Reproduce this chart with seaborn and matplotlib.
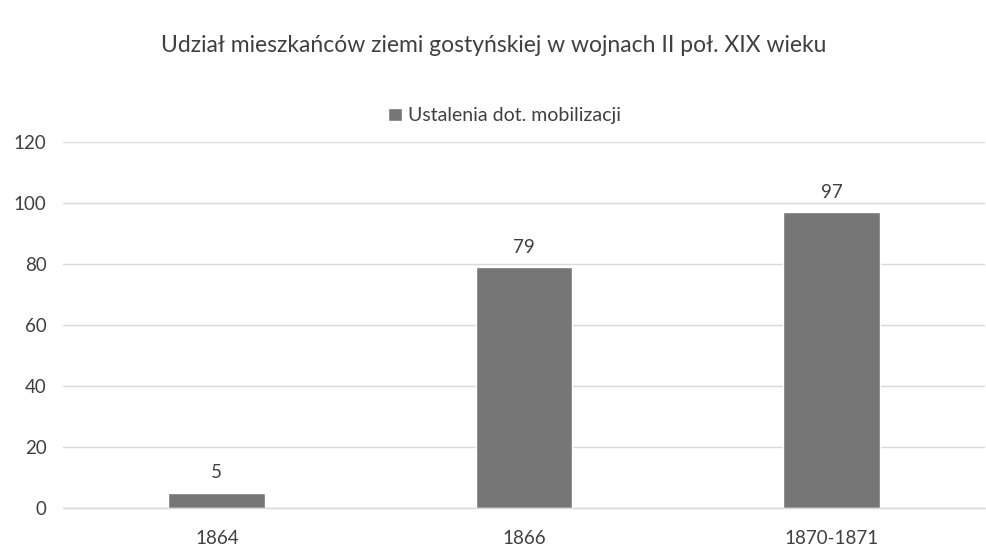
import pandas as pd
import matplotlib.pyplot as plt
import seaborn as sns

# data
okresy = ["1864", "1866", "1870-1871"]
wartosci = [5, 79, 97]
seria = "Ustalenia dot. mobilizacji"
y_ticks = [0, 20, 40, 60, 80, 100, 120]

TEXT = "#404040"
BAR = "#767676"
GRID = "#d9d9d9"

sns.set_theme(style="white")
plt.rcParams['font.family'] = ['Lato', 'DejaVu Sans']

df = pd.DataFrame({"okres": okresy, "liczba": wartosci, "seria": [seria] * len(okresy)})

fig = plt.figure(figsize=(9.87, 5.52), dpi=100)
ax = fig.add_axes([0.064, 0.080, 0.934, 0.663])

sns.barplot(data=df, x="okres", y="liczba", hue="seria", palette=[BAR],
            width=0.315, dodge=False, ax=ax, legend=True)

ax.set_ylim(0, 120)
ax.set_yticks(y_ticks)
ax.yaxis.grid(True, color=GRID, linewidth=1)
ax.set_axisbelow(True)
for s in ["top", "right", "left"]:
    ax.spines[s].set_visible(False)
ax.spines["bottom"].set_color(GRID)
ax.spines["bottom"].set_linewidth(1)
ax.tick_params(axis="both", length=0, labelsize=13.5, colors=TEXT, pad=12)
ax.tick_params(axis="x", pad=16)
ax.set_xlabel("")
ax.set_ylabel("")

for c in ax.containers:
    ax.bar_label(c, fmt="%d", padding=8, fontsize=13.5, color=TEXT)

ax.legend(loc="center", bbox_to_anchor=(0.511, 0.79), bbox_transform=fig.transFigure,
          frameon=False, fontsize=14, handlelength=0.7, handleheight=0.7,
          handletextpad=0.3, labelcolor=TEXT)

fig.text(0.5, 0.918, "Udział mieszkańców ziemi gostyńskiej w wojnach II poł. XIX wieku",
         ha="center", va="center", fontsize=16.5, color=TEXT)

fig.savefig("out.png", dpi=100, facecolor="white")
